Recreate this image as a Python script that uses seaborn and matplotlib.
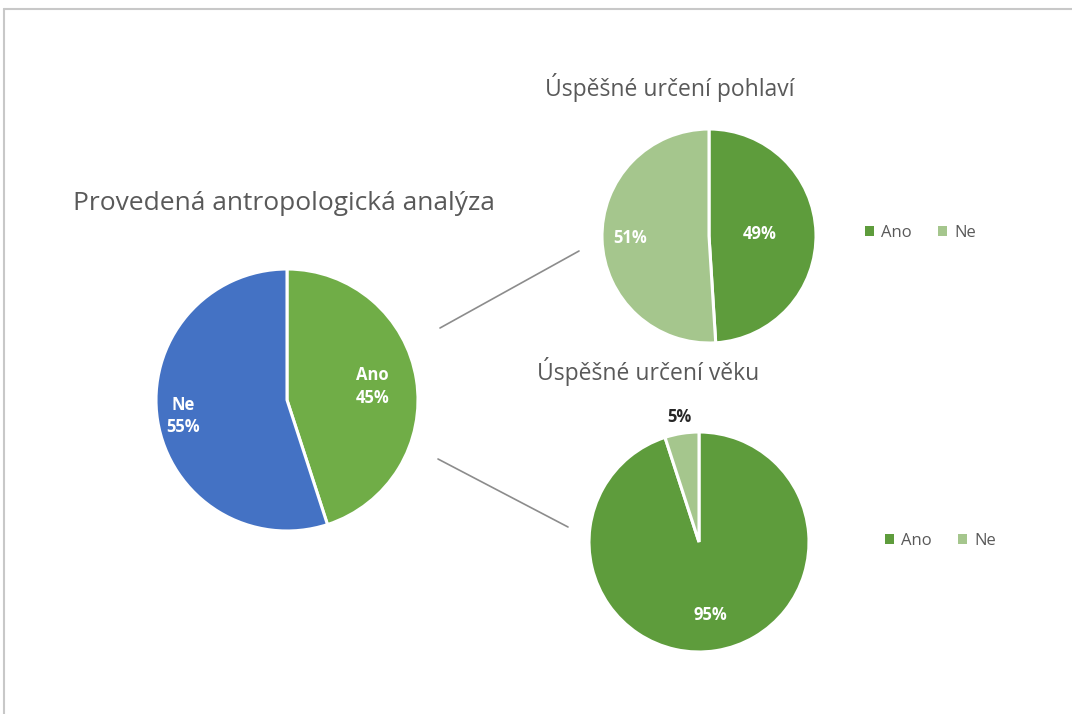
import matplotlib
matplotlib.use("Agg")
import matplotlib.pyplot as plt
from matplotlib.patches import Patch
from matplotlib.lines import Line2D
import seaborn as sns
import numpy as np

# ---- data ----
main_title = "Provedená antropologická analýza"
main_labels = ["Ano", "Ne"]
main_values = [45, 55]

sex_title = "Úspěšné určení pohlaví"
sex_labels = ["Ano", "Ne"]
sex_values = [49, 51]

age_title = "Úspěšné určení věku"
age_labels = ["Ano", "Ne"]
age_values = [95, 5]

sns.set_theme(style="white")
plt.rcParams['font.family'] = ['Open Sans', 'DejaVu Sans']

W, H = 1072, 714
fig = plt.figure(figsize=(W / 100, H / 100), dpi=100)
fig.patch.set_facecolor("white")

TXT = "#595959"
BLUE = "#4472C4"
GREEN = "#70AD47"
DARK = "#5E9C3C"
LIGHT = "#A5C68D"


def pie_axes(cx, cy, r):
    ax = fig.add_axes([(cx - r) / W, (H - cy - r) / H, 2 * r / W, 2 * r / H])
    ax.axis("off")
    return ax


def draw_pie(ax, values, colors, texts, dists, tcolors):
    wedges, _ = ax.pie(values, colors=colors, startangle=90, counterclock=False,
                       radius=1.0, wedgeprops=dict(edgecolor="white", linewidth=2.2))
    ax.set_xlim(-1, 1)
    ax.set_ylim(-1, 1)
    ax.set_aspect("equal")
    for w, t, d, c in zip(wedges, texts, dists, tcolors):
        ang = np.deg2rad((w.theta1 + w.theta2) / 2)
        ax.text(d * np.cos(ang), d * np.sin(ang), t, ha="center", va="center",
                color=c, fontsize=12, fontweight="bold", linespacing=1.3,
                clip_on=False)
    return wedges


# main pie
ax1 = pie_axes(287, 400, 131)
draw_pie(ax1, main_values, [GREEN, BLUE],
         [f"{l}\n{v}%" for l, v in zip(main_labels, main_values)],
         [0.66, 0.80], ["white", "white"])

# sex pie
ax2 = pie_axes(709, 236, 107)
draw_pie(ax2, sex_values, [DARK, LIGHT],
         [f"{v}%" for v in sex_values],
         [0.47, 0.74], ["white", "white"])

# age pie
ax3 = pie_axes(699, 542, 110)
draw_pie(ax3, age_values, [DARK, LIGHT],
         [f"{v}%" for v in age_values],
         [0.67, 1.15], ["white", "#262626"])

# titles
fig.text(284 / W, 1 - 204 / H, main_title, ha="center", va="center", fontsize=19, color=TXT)
fig.text(670 / W, 1 - 88 / H, sex_title, ha="center", va="center", fontsize=16.5, color=TXT)
fig.text(648 / W, 1 - 371 / H, age_title, ha="center", va="center", fontsize=16.5, color=TXT)

# legends
for labels, cols, (lx, ly) in [(sex_labels, [DARK, LIGHT], (865, 233)),
                               (age_labels, [DARK, LIGHT], (885, 541))]:
    handles = [Patch(facecolor=c, edgecolor="none") for c in cols]
    fig.legend(handles, labels, loc="center left", bbox_to_anchor=(lx / W, 1 - ly / H),
               ncol=2, frameon=False, fontsize=12, labelcolor=TXT,
               handlelength=0.55, handleheight=0.55, handletextpad=0.4,
               columnspacing=1.6, borderpad=0, borderaxespad=0)

# connector lines
for (x0, y0), (x1, y1) in [((440, 328), (579, 251)), ((438, 459), (568, 527))]:
    fig.add_artist(Line2D([x0 / W, x1 / W], [1 - y0 / H, 1 - y1 / H],
                          color="#8C8C8C", linewidth=1.2))

# frame lines
fig.add_artist(Line2D([4 / W, 1.0], [1 - 9 / H, 1 - 9 / H], color="#C8C8C8", linewidth=1.5))
fig.add_artist(Line2D([4 / W, 4 / W], [0.0, 1 - 9 / H], color="#C8C8C8", linewidth=1.5))

fig.savefig("out.png", dpi=100, facecolor="white")
